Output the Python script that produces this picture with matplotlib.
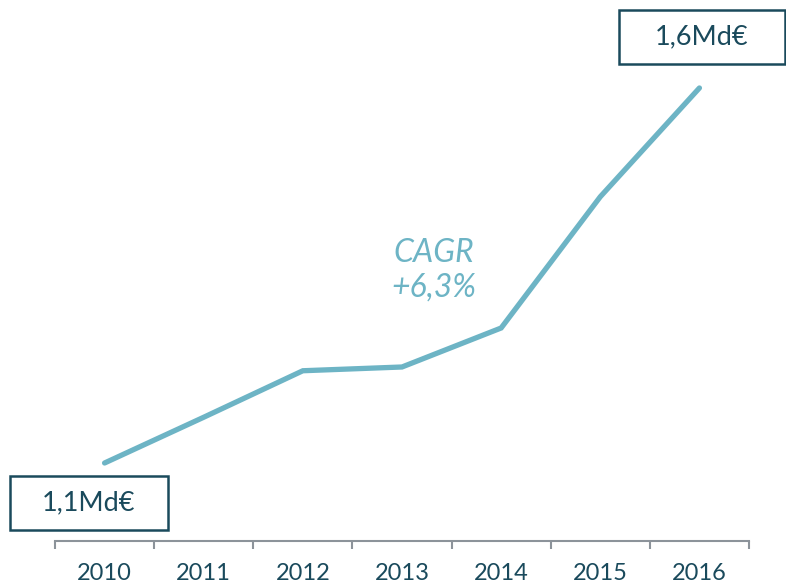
import matplotlib
matplotlib.use("Agg")
import matplotlib.pyplot as plt
from matplotlib.patches import Rectangle
import numpy as np

years = ["2010", "2011", "2012", "2013", "2014", "2015", "2016"]
values = [1.10, 1.161, 1.223, 1.228, 1.280, 1.455, 1.60]
start_label = "1,1Md€"
end_label = "1,6Md€"
cagr_label = "CAGR\n+6,3%"

LINE = "#6db4c5"
DARK = "#1a4a5c"
GREY = "#8c939a"

plt.rcParams['font.family'] = ['Lato', 'DejaVu Sans']

fig = plt.figure(figsize=(7.86, 5.87), dpi=100)
ax = fig.add_axes([55/786, 46/587, 694/786, 541/587])
x = np.arange(len(years))
ax.plot(x, values, color=LINE, lw=3.8, solid_capstyle='round', solid_joinstyle='miter')
ax.set_xlim(-0.5, len(years) - 0.5)
ax.set_ylim(0.996, 1.7173)

for s in ['left', 'right', 'top']:
    ax.spines[s].set_visible(False)
ax.spines['bottom'].set_color(GREY)
ax.spines['bottom'].set_linewidth(1.5)
ax.set_yticks([])
ax.set_xticks(x)
ax.set_xticklabels(years, fontsize=17, color=DARK)
ax.tick_params(axis='x', which='major', length=0, pad=16)
ax.set_xticks(np.arange(-0.5, len(years)), minor=True)
ax.tick_params(axis='x', which='minor', length=6, width=1.5, color=GREY, direction='out')

# CAGR annotation
ax.text(3.32, 1.357, cagr_label, fontsize=23, style='italic', color=LINE,
        ha='center', va='center', linespacing=1.2)

# Boxes
def box(x0, y0, x1, y1, label):
    W, H = 786, 587
    r = Rectangle((x0/W, 1 - y1/H), (x1-x0)/W, (y1-y0)/H, transform=fig.transFigure,
                  fill=False, edgecolor=DARK, lw=1.8, clip_on=False)
    fig.add_artist(r)
    fig.text((x0+x1)/2/W, 1 - (y0+y1)/2/H, label, ha='center', va='center',
             fontsize=19.5, color=DARK)

box(10, 476, 168, 530, start_label)
box(619, 10, 785, 64, end_label)

fig.savefig("out.png", dpi=100)
